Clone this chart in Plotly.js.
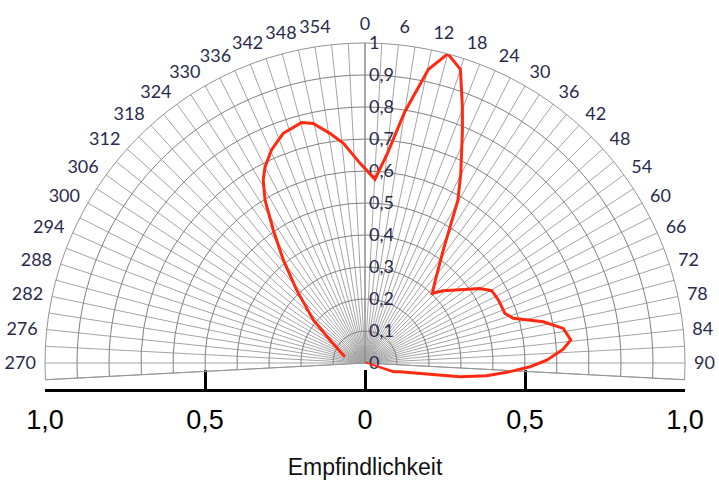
<!DOCTYPE html>
<html><head><meta charset="utf-8">
<script src="https://cdn.plot.ly/plotly-3.0.1.min.js"></script>
<style>html,body{margin:0;padding:0;background:#fff}#chart{width:719px;height:485px}</style>
</head><body><div id="chart"></div>
<script>
// Directional sensitivity (angle in degrees, clockwise from top; relative sensitivity 0..1)
const angles = [287.5, 292.6, 303.3, 309.8, 316.9, 321.6, 325.4, 328.5, 330.9, 333.0, 336.3, 340.4, 345.2, 347.8, 351.3, 354.4, 358.6,
  3.1, 6.1, 9.0, 12.2, 15.0, 18.0, 20.8, 22.7, 26.8, 29.7, 34.7, 40.3, 44.0, 47.3, 57.0, 60.3, 64.7, 70.5, 73.2, 77.0, 80.1, 83.6, 86.0, 89.1,
  91.3, 93.4, 96.0, 98.2, 100.1, 104.0, 107.0, 110.0];
const sensitivity = [0.066, 0.079, 0.131, 0.21, 0.313, 0.411, 0.505, 0.598, 0.654, 0.688, 0.727, 0.762, 0.777, 0.766, 0.726, 0.69, 0.624,
  0.575, 0.659, 0.795, 0.939, 1.0, 0.965, 0.857, 0.789, 0.664, 0.586, 0.43, 0.34, 0.303, 0.333, 0.428, 0.456, 0.461, 0.464, 0.484, 0.572, 0.629, 0.647, 0.621, 0.568,
  0.516, 0.454, 0.382, 0.30, 0.196, 0.113, 0.0925, 0.0];

const angleLabelValues = [0, 6, 12, 18, 24, 30, 36, 42, 48, 54, 60, 66, 72, 78, 84, 90,
  270, 276, 282, 288, 294, 300, 306, 312, 318, 324, 330, 336, 342, 348, 354];
const radialTickValues = [0, 0.1, 0.2, 0.3, 0.4, 0.5, 0.6, 0.7, 0.8, 0.9, 1];
const radialTickText = ['0', '0,1', '0,2', '0,3', '0,4', '0,5', '0,6', '0,7', '0,8', '0,9', '1'];
const scaleTickValues = [-1, -0.5, 0, 0.5, 1];
const scaleTickText = ['1,0', '0,5', '0', '0,5', '1,0'];
const scaleTitle = 'Empfindlichkeit';

// spokes every 3 degrees (expressed from -93 to 93 so they fall in the visible range), labels every 6
const gridAngles = [];
for (let a = -93; a <= 93; a += 3) gridAngles.push(a);
const gridText = gridAngles.map(a => {
  const v = (a + 360) % 360;
  return angleLabelValues.includes(v) ? String(v) : '';
});

const W = 719, H = 485, cx = 365, cy = 363, R = 320;
function dom(extraDeg) {
  const bottom = cy + R * Math.sin(extraDeg * Math.PI / 180);
  return { x: [(cx - R) / W, (cx + R) / W], y: [1 - bottom / H, 1 - (cy - R) / H] };
}
const labelFont = { family: 'Lato, "Open Sans", sans-serif', size: 18, color: '#2a2a4c' };

const traces = [
  { type: 'scatterpolar', subplot: 'polar', r: [0], theta: [0], mode: 'markers',
    marker: { size: 1, opacity: 0 }, hoverinfo: 'skip', showlegend: false },
  { type: 'scatterpolar', subplot: 'polar2', r: sensitivity, theta: angles, mode: 'lines',
    line: { color: '#ff2a12', width: 3 }, hoverinfo: 'skip', showlegend: false },
  { type: 'scatter', x: [0], y: [0], mode: 'markers', marker: { size: 1, opacity: 0 },
    hoverinfo: 'skip', showlegend: false }
];

const layout = {
  width: W, height: H, margin: { l: 0, r: 0, t: 0, b: 0 },
  paper_bgcolor: '#fff', plot_bgcolor: 'rgba(0,0,0,0)', showlegend: false,
  polar: {
    domain: dom(3), sector: [-3, 183], bgcolor: 'rgba(0,0,0,0)',
    angularaxis: {
      rotation: 90, direction: 'clockwise', tickmode: 'array', tickvals: gridAngles, ticktext: gridText,
      showgrid: true, gridcolor: '#a4a4a4', gridwidth: 1, showline: true, linecolor: '#949494', linewidth: 1,
      ticks: 'outside', ticklen: 5, tickcolor: 'rgba(0,0,0,0)', tickfont: labelFont
    },
    radialaxis: {
      range: [0, 1], angle: 90, side: 'clockwise', tickmode: 'array', tickvals: radialTickValues, ticktext: radialTickText,
      tickangle: 90, showgrid: true, gridcolor: '#808080', gridwidth: 1, showline: true, linecolor: '#808080',
      ticks: '', tickfont: labelFont
    }
  },
  polar2: {
    domain: dom(20), sector: [-20, 200], bgcolor: 'rgba(0,0,0,0)',
    angularaxis: { rotation: 90, direction: 'clockwise', showgrid: false, showline: false, showticklabels: false, ticks: '' },
    radialaxis: { range: [0, 1], visible: false, showgrid: false, showline: false, showticklabels: false, ticks: '' }
  },
  xaxis: {
    domain: [(cx - R) / W, (cx + R) / W], anchor: 'y', range: [-1, 1],
    tickmode: 'array', tickvals: scaleTickValues, ticktext: scaleTickText,
    ticks: 'inside', ticklen: 19, tickwidth: 3, tickcolor: '#000',
    showline: true, linewidth: 3, linecolor: '#000', showgrid: false, zeroline: false,
    tickfont: { family: '"Liberation Sans", Arial, sans-serif', size: 27, color: '#000' },
    ticklabelstandoff: 5,
    title: { text: scaleTitle, font: { family: '"Liberation Sans", Arial, sans-serif', size: 23, color: '#111' }, standoff: 25 },
    fixedrange: true
  },
  yaxis: { domain: [1 - 389 / H, 1 - 389 / H + 0.05], visible: false, fixedrange: true, range: [0, 1] }
};

Plotly.newPlot('chart', traces, layout, { staticPlot: true, displayModeBar: false });
</script>
</body></html>
